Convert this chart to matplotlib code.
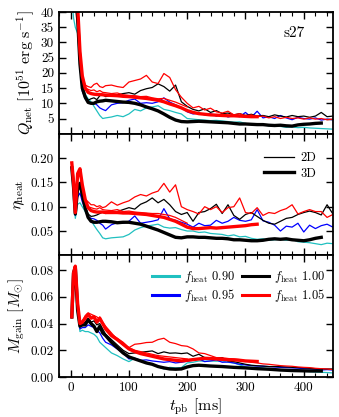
import numpy as np
import matplotlib
matplotlib.use("Agg")
import matplotlib.pyplot as plt
from matplotlib.lines import Line2D
from matplotlib.ticker import MultipleLocator

plt.rcParams['font.family'] = 'serif'
plt.rcParams['font.serif'] = ['cmr10', 'DejaVu Serif']
plt.rcParams['mathtext.fontset'] = 'cm'
plt.rcParams['axes.formatter.use_mathtext'] = True

# time grid [ms]
t = [2, 5, 8, 12, 16, 20, 25, 30, 35, 40, 45, 50, 55, 60,
     70, 80, 90, 100, 110, 120, 130, 140, 150, 160,
     170, 180, 190, 200, 210, 220, 230, 240, 250, 260,
     270, 280, 290, 300, 310, 320, 330, 340, 350, 360,
     370, 380, 390, 400, 410, 420, 430, 440, 450]

# ---- Q_net [1e51 erg/s] ----
q_090_2d = [45, 38, 35, 33, 22, 16, 13, 11.5, 10.5, 9, 7.5, 6, 5, 5.2,
            5.5, 6, 5.6, 6.5, 8, 7.5, 8.5, 8.8, 9.2, 8,
            7.6, 7, 6.5, 5, 4.8, 4.6, 4.5, 4.3, 4.4, 4.2,
            4.0, 3.8, 3.9, 3.4, 3.0, 2.8, 2.9, 2.6, 2.5, 2.4,
            2.1, 2.2, 2.0, 2.1, 1.9, 1.8, 1.7, 1.6, 1.5]
q_095_2d = [55, 48, 44, 36, 22, 14, 11.5, 10.5, 10, 10.2, 9.5, 8.5, 8, 7.6,
            9.5, 10, 10.2, 11, 11.4, 10, 10.2, 10, 10.5, 11.8,
            10.4, 9.5, 8.6, 7.2, 6.5, 6.8, 6.2, 6.6, 5.8, 6.4,
            5.5, 6.0, 5.6, 7.0, 5.4, 7.4, 5.2, 5.6, 5.0, 6.0,
            5.2, 4.6, 5.4, 5.0, 4.8, 5.2, 4.5, 4.8, 4.6]
q_100_2d = [60, 52, 46, 40, 26, 16, 12.5, 11, 11.5, 11.8, 11.2, 12.5, 12.8, 12.2,
            12.6, 12.8, 13.2, 13.5, 13, 14.2, 14.8, 15.2, 16.4, 15.5,
            14, 16, 10.5, 9, 8, 7.5, 8.2, 7, 7.6, 6.6,
            6.8, 6.2, 6.6, 6.0, 6.4, 5.8, 6.0, 5.6, 6.2, 5.8,
            5.5, 6.0, 5.6, 5.8, 5.4, 5.8, 7.0, 5.6, 5.8]
q_105_2d = [60, 52, 47, 41, 28, 19, 16, 15.5, 15.2, 16.2, 16.6, 15.5, 15.2, 15.8,
            16, 15.5, 15.2, 17, 17.5, 18, 19.2, 17, 16.5, 19.8,
            18.5, 14.5, 12, 10, 8.5, 9.0, 7.8, 8.4, 7.2, 6.8,
            7.4, 6.2, 6.6, 5.8, 6.2, 5.6, 5.8, 5.2, 5.6, 5.0,
            5.4, 5.0, 5.2, 4.8, 5.2, 4.8, 5.0, 4.6, 4.8]
q_105_2d_b = [60, 52, 46, 40, 27, 18, 15, 14.6, 14.2, 14.4, 13.8, 14.2, 13.6, 13.5,
              13.2, 13.4, 12.8, 12.6, 12.5, 12.2, 12.3, 11.8, 11.5, 11.6,
              11, 10.4, 9.6, 8.8]
q_100_3d = [60, 52, 46, 38, 23, 15, 12, 10.3, 10, 10, 10.5, 10.7, 10.8, 11,
            10.8, 10.6, 10.4, 10.3, 10, 9.5, 8.8, 8.2, 7.5, 6.5,
            5.4, 4.5, 4.0, 3.9, 4.0, 4.1, 4.0, 3.9, 3.8, 3.7,
            3.6, 3.4, 3.2, 3.2, 3.1, 3.0, 3.0, 2.8, 2.7, 2.8,
            2.6, 2.5, 2.9, 3.1, 3.2, 3.4, 3.5]
q_105_3d = [60, 54, 48, 42, 27, 19, 15, 13.6, 13.2, 13, 12.9, 12.9, 12.8, 12.7,
            12.6, 12.5, 12.3, 12.2, 12.0, 11.8, 11.6, 11.3, 11.0, 10.5,
            9.8, 9.2, 8.5, 7.6, 7.0, 6.6, 6.4, 6.2, 6.1, 6.0,
            5.9, 5.9, 5.8, 5.7, 5.6, 5.6]

# ---- eta_heat ----
e_090_2d = [0.17, 0.13, 0.076, 0.105, 0.108, 0.1, 0.09, 0.079, 0.072, 0.062, 0.053, 0.045, 0.036, 0.034,
            0.036, 0.037, 0.038, 0.043, 0.052, 0.057, 0.06, 0.062, 0.064, 0.058,
            0.056, 0.057, 0.053, 0.05, 0.05, 0.047, 0.048, 0.045, 0.044, 0.043,
            0.04, 0.042, 0.038, 0.039, 0.035, 0.033, 0.034, 0.031, 0.032, 0.033,
            0.031, 0.033, 0.028, 0.027, 0.026, 0.024, 0.022, 0.025, 0.024]
e_095_2d = [0.18, 0.14, 0.082, 0.12, 0.128, 0.11, 0.095, 0.08, 0.076, 0.075, 0.072, 0.066, 0.062, 0.054,
            0.063, 0.067, 0.066, 0.07, 0.081, 0.066, 0.068, 0.07, 0.073, 0.096,
            0.075, 0.072, 0.068, 0.064, 0.058, 0.066, 0.061, 0.062, 0.072, 0.066,
            0.07, 0.078, 0.072, 0.07, 0.073, 0.094, 0.071, 0.068, 0.062, 0.05,
            0.06, 0.058, 0.066, 0.048, 0.062, 0.055, 0.061, 0.064, 0.058]
e_100_2d = [0.18, 0.14, 0.086, 0.13, 0.14, 0.12, 0.1, 0.085, 0.08, 0.081, 0.083, 0.086, 0.089, 0.086,
            0.088, 0.09, 0.094, 0.098, 0.095, 0.105, 0.11, 0.118, 0.108, 0.115,
            0.104, 0.09, 0.084, 0.088, 0.07, 0.088, 0.09, 0.096, 0.105, 0.086,
            0.104, 0.082, 0.074, 0.084, 0.088, 0.08, 0.072, 0.066, 0.064, 0.07,
            0.076, 0.078, 0.084, 0.088, 0.091, 0.088, 0.083, 0.104, 0.085]
e_105_2d = [0.19, 0.15, 0.09, 0.16, 0.165, 0.135, 0.115, 0.11, 0.104, 0.104, 0.1, 0.102, 0.098, 0.1,
            0.11, 0.103, 0.108, 0.112, 0.12, 0.125, 0.122, 0.128, 0.132, 0.148,
            0.13, 0.145, 0.1, 0.094, 0.09, 0.085, 0.1, 0.094, 0.1, 0.088,
            0.098, 0.1, 0.118, 0.088, 0.086, 0.098, 0.082, 0.088, 0.086, 0.092,
            0.096, 0.104, 0.085, 0.09, 0.094, 0.09, 0.09, 0.078, 0.084]
e_105_2d_b = [0.19, 0.15, 0.09, 0.16, 0.17, 0.13, 0.108, 0.1, 0.098, 0.096, 0.095, 0.098, 0.094, 0.093,
              0.092, 0.094, 0.09, 0.091, 0.089, 0.088, 0.087, 0.086, 0.086, 0.084,
              0.082, 0.078, 0.072, 0.066]
e_100_3d = [0.18, 0.14, 0.085, 0.138, 0.148, 0.125, 0.097, 0.078, 0.07, 0.068, 0.068, 0.069, 0.07, 0.07,
            0.069, 0.067, 0.068, 0.068, 0.066, 0.064, 0.06, 0.056, 0.052, 0.047,
            0.042, 0.037, 0.036, 0.038, 0.038, 0.037, 0.037, 0.036, 0.035, 0.035,
            0.034, 0.032, 0.032, 0.031, 0.030, 0.030, 0.031, 0.033, 0.034, 0.033,
            0.034, 0.032, 0.031, 0.030, 0.032, 0.035, 0.037]
e_105_3d = [0.19, 0.15, 0.088, 0.168, 0.178, 0.145, 0.115, 0.098, 0.092, 0.09, 0.089, 0.089, 0.089, 0.088,
            0.088, 0.088, 0.087, 0.087, 0.086, 0.085, 0.084, 0.082, 0.08, 0.078,
            0.074, 0.07, 0.064, 0.058, 0.055, 0.055, 0.056, 0.057, 0.056, 0.057,
            0.058, 0.059, 0.06, 0.061, 0.063, 0.064]

# ---- M_gain [Msun] ----
m_090_2d = [0.044, 0.077, 0.08, 0.05, 0.034, 0.035, 0.034, 0.034, 0.033, 0.032, 0.030, 0.026, 0.024, 0.022,
            0.018, 0.016, 0.0135, 0.0115, 0.014, 0.0125, 0.011, 0.0095, 0.0075, 0.006,
            0.0072, 0.0068, 0.007, 0.0105, 0.011, 0.012, 0.0118, 0.012, 0.0118, 0.012,
            0.011, 0.0105, 0.009, 0.0075, 0.0072, 0.0072, 0.0068, 0.0062, 0.006, 0.0052,
            0.005, 0.0047, 0.0045, 0.0043, 0.004, 0.0037, 0.0035, 0.0033, 0.003]
m_095_2d = [0.045, 0.078, 0.082, 0.05, 0.036, 0.037, 0.037, 0.039, 0.038, 0.037, 0.035, 0.033, 0.029, 0.026,
            0.024, 0.021, 0.018, 0.0135, 0.014, 0.0125, 0.0128, 0.012, 0.0115, 0.011,
            0.0115, 0.0105, 0.011, 0.0118, 0.0125, 0.0135, 0.0115, 0.012, 0.0128, 0.011,
            0.0112, 0.0105, 0.0095, 0.009, 0.0085, 0.0082, 0.008, 0.0078, 0.0075, 0.0072,
            0.007, 0.0068, 0.0066, 0.0062, 0.006, 0.0058, 0.0052, 0.0055, 0.0052]
m_100_2d = [0.045, 0.078, 0.082, 0.05, 0.038, 0.04, 0.041, 0.044, 0.041, 0.042, 0.039, 0.04, 0.036, 0.032,
            0.028, 0.024, 0.02, 0.0175, 0.018, 0.0185, 0.019, 0.0195, 0.0175, 0.0188,
            0.0178, 0.018, 0.0175, 0.018, 0.0155, 0.017, 0.0145, 0.0138, 0.0142, 0.0145,
            0.012, 0.0115, 0.0105, 0.0095, 0.0088, 0.0084, 0.0082, 0.0078, 0.0078, 0.0077,
            0.0075, 0.0072, 0.007, 0.0068, 0.0065, 0.0062, 0.006, 0.006, 0.006]
m_105_2d = [0.045, 0.078, 0.083, 0.055, 0.04, 0.042, 0.046, 0.048, 0.047, 0.046, 0.045, 0.043, 0.041, 0.038,
            0.033, 0.028, 0.024, 0.022, 0.0245, 0.025, 0.0258, 0.026, 0.028, 0.029,
            0.026, 0.025, 0.0235, 0.023, 0.021, 0.018, 0.0175, 0.016, 0.0145, 0.0143,
            0.0138, 0.0135, 0.013, 0.012, 0.011, 0.0105, 0.0098, 0.0095, 0.009, 0.0085,
            0.0082, 0.008, 0.0075, 0.0072, 0.007, 0.0065, 0.0062, 0.006, 0.0055]
m_105_2d_b = [0.045, 0.078, 0.083, 0.055, 0.04, 0.041, 0.045, 0.046, 0.045, 0.046, 0.042, 0.045, 0.04, 0.037,
              0.032, 0.029, 0.026, 0.022, 0.02, 0.019, 0.018, 0.017, 0.016, 0.0155,
              0.015, 0.0145, 0.014, 0.0135]
m_100_3d = [0.045, 0.078, 0.082, 0.05, 0.038, 0.039, 0.039, 0.043, 0.04, 0.038, 0.034, 0.038, 0.033, 0.031,
            0.026, 0.022, 0.018, 0.015, 0.0135, 0.012, 0.0105, 0.0095, 0.0078, 0.0068,
            0.006, 0.0058, 0.006, 0.0075, 0.0085, 0.0088, 0.0085, 0.0082, 0.008, 0.0078,
            0.0075, 0.0072, 0.007, 0.0068, 0.0065, 0.0062, 0.006, 0.0058, 0.0055, 0.0052,
            0.005, 0.0048, 0.0047, 0.0046, 0.0045, 0.0045, 0.0045]
m_105_3d = [0.045, 0.078, 0.083, 0.055, 0.04, 0.041, 0.044, 0.047, 0.044, 0.045, 0.041, 0.044, 0.04, 0.036,
            0.031, 0.028, 0.0245, 0.021, 0.019, 0.0175, 0.0165, 0.0155, 0.0145, 0.0135,
            0.013, 0.0125, 0.012, 0.0125, 0.013, 0.0135, 0.014, 0.0138, 0.0135, 0.0132,
            0.013, 0.0128, 0.0125, 0.012, 0.0118, 0.0116]

cyan = '#20c0c0'
colors = {'0.90': cyan, '0.95': '#0000ff', '1.00': 'k', '1.05': '#ff0000'}
thin = 0.9
thick = 2.4

fig = plt.figure(figsize=(3.39, 4.17), dpi=100)
axes = []
top, bot = 0.971, 0.096
h = (top - bot) / 3
for i in range(3):
    axes.append(fig.add_axes([0.174, top - (i + 1) * h, 0.808, h]))

panels = [
    (q_090_2d, q_095_2d, q_100_2d, q_105_2d, q_105_2d_b, q_100_3d, q_105_3d),
    (e_090_2d, e_095_2d, e_100_2d, e_105_2d, e_105_2d_b, e_100_3d, e_105_3d),
    (m_090_2d, m_095_2d, m_100_2d, m_105_2d, m_105_2d_b, m_100_3d, m_105_3d),
]

for ax, (a, b, c, d, d2, c3, d3) in zip(axes, panels):
    ax.plot(t[:len(a)], a, color=colors['0.90'], lw=thin)
    ax.plot(t[:len(b)], b, color=colors['0.95'], lw=thin)
    ax.plot(t[:len(c)], c, color=colors['1.00'], lw=thin)
    ax.plot(t[:len(d)], d, color=colors['1.05'], lw=thin)
    ax.plot(t[:len(d2)], d2, color=colors['1.05'], lw=thin)
    ax.plot(t[:len(c3)], c3, color=colors['1.00'], lw=thick)
    ax.plot(t[:len(d3)], d3, color=colors['1.05'], lw=thick)
    ax.set_xlim(-20, 450)
    ax.xaxis.set_major_locator(MultipleLocator(100))
    ax.xaxis.set_minor_locator(MultipleLocator(20))
    ax.tick_params(which='both', direction='in', top=True, right=True, labelsize=9.5)
    ax.tick_params(which='major', length=5, width=1)
    ax.tick_params(which='minor', length=3, width=0.8)
    for s in ax.spines.values():
        s.set_linewidth(1.3)

ax1, ax2, ax3 = axes
ax1.set_ylim(0, 40)
ax1.set_yticks([5, 10, 15, 20, 25, 30, 35, 40])
ax1.set_yticklabels(['5', '10', '15', '20', '25', '30', '35', '40'])
ax1.set_ylabel(r'$Q_{\rm net}\ [10^{51}\ {\rm erg\ s}^{-1}]$', fontsize=11.5, labelpad=3)
ax1.text(0.86, 0.83, 's27', transform=ax1.transAxes, fontsize=11, ha='center', va='center')
ax1.tick_params(labelbottom=False)

ax2.set_ylim(0, 0.25)
ax2.set_yticks([0.05, 0.10, 0.15, 0.20])
ax2.set_yticklabels(['0.05', '0.10', '0.15', '0.20'])
ax2.set_ylabel(r'$\eta_{\rm heat}$', fontsize=11.5, labelpad=3)
ax2.tick_params(labelbottom=False)
h2 = [Line2D([], [], color='k', lw=thin), Line2D([], [], color='k', lw=thick)]
ax2.legend(h2, ['2D', '3D'], loc='upper right', frameon=False, fontsize=9,
           handlelength=2.4, handletextpad=0.5, borderaxespad=0.4, labelspacing=0.25,
           bbox_to_anchor=(0.975, 0.93))

ax3.set_ylim(0, 0.0911)
ax3.set_yticks([0.00, 0.02, 0.04, 0.06, 0.08])
ax3.set_yticklabels(['0.00', '0.02', '0.04', '0.06', '0.08'])
ax3.set_ylabel(r'$M_{\rm gain}\ [M_{\odot}]$', fontsize=11.5, labelpad=3)
ax3.set_xticks([0, 100, 200, 300, 400])
ax3.set_xticklabels(['0', '100', '200', '300', '400'])
ax3.set_xlabel(r'$t_{\rm pb}$ [ms]', fontsize=11.5, labelpad=2)
h3 = [Line2D([], [], color=colors[k], lw=2.2) for k in ['0.90', '0.95', '1.00', '1.05']]
l3 = [r'$f_{\rm heat}$ 0.90', r'$f_{\rm heat}$ 0.95', r'$f_{\rm heat}$ 1.00', r'$f_{\rm heat}$ 1.05']
ax3.legend(h3, l3, loc='upper right', ncol=2, frameon=False, fontsize=9,
           handlelength=2.2, columnspacing=0.5, handletextpad=0.4, labelspacing=0.2,
           borderaxespad=0.2, bbox_to_anchor=(1.0, 0.95))

fig.savefig('out.png', dpi=100)
